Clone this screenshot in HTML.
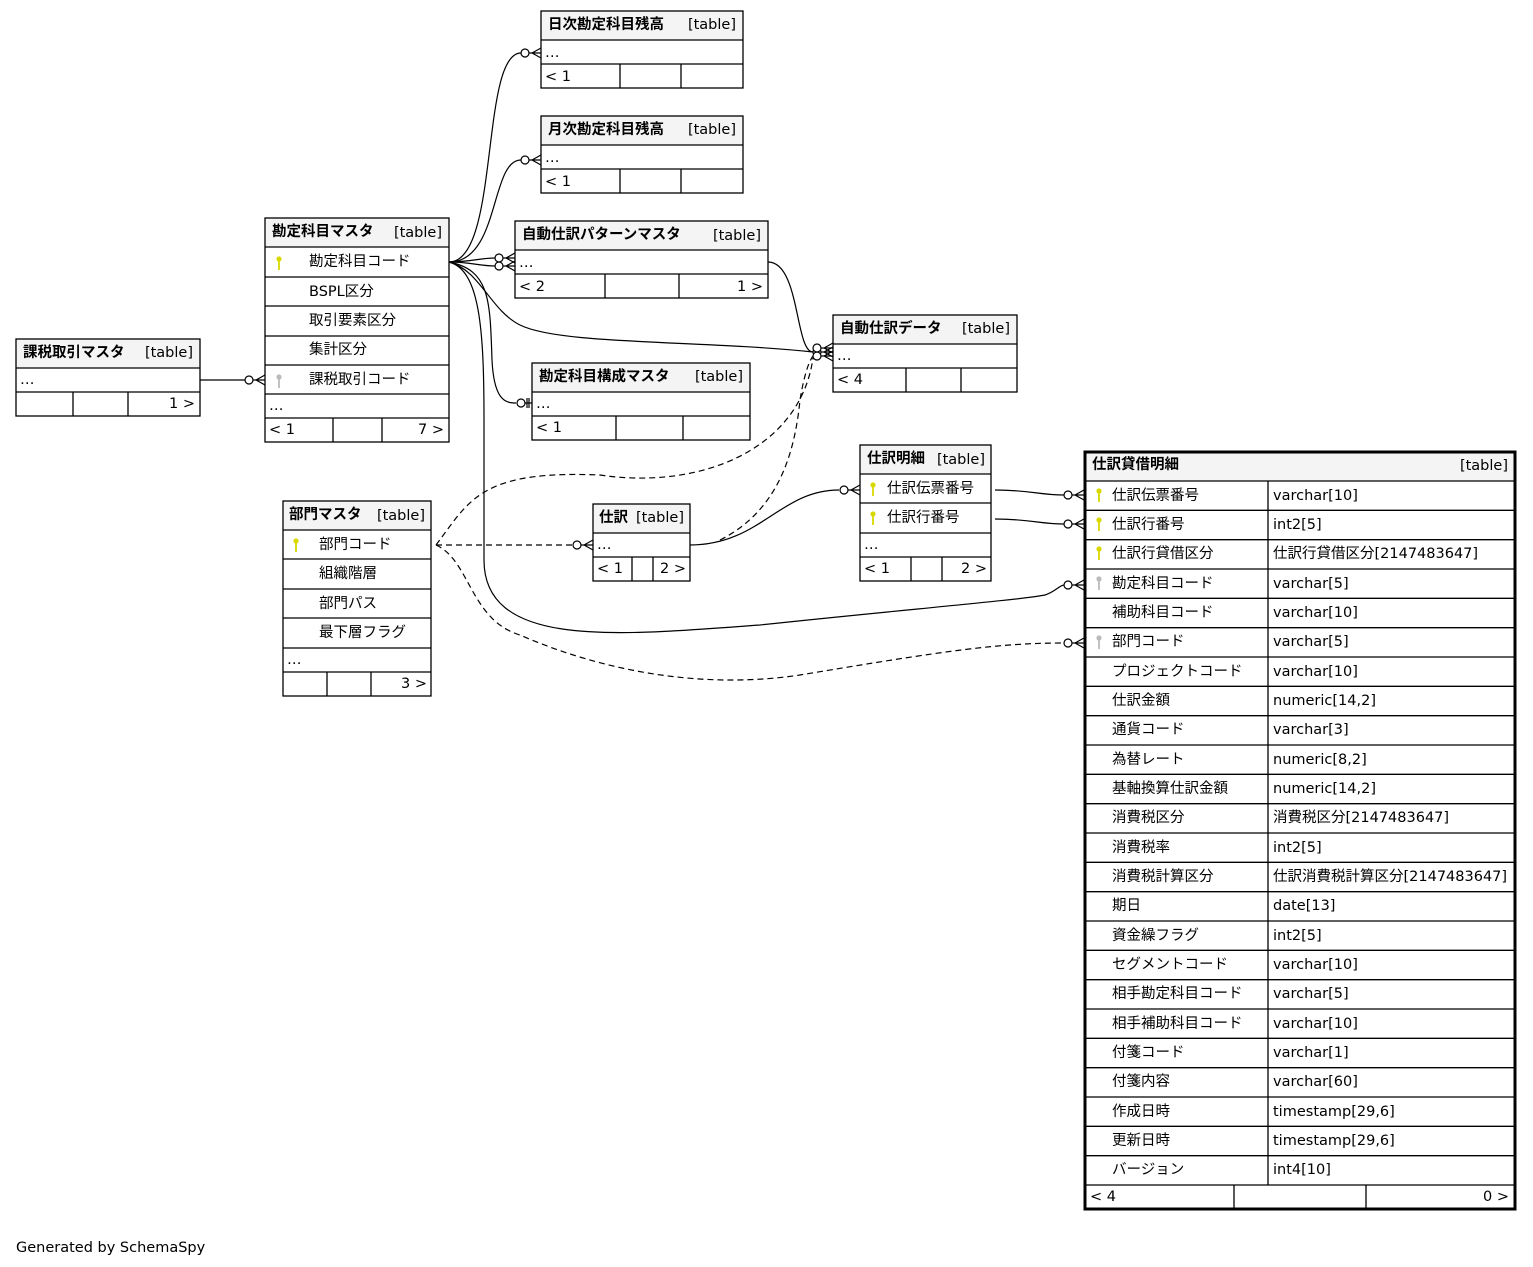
<!DOCTYPE html>
<html><head><meta charset="utf-8">
<style>
html,body{margin:0;padding:0;background:#fff;}
svg{display:block;}
text{font-family:"DejaVu Sans","Liberation Sans","Noto Sans CJK JP",sans-serif;font-size:14.5px;fill:#000;}
.b{font-weight:bold;}
.h{fill:#f4f4f4;}
.t{fill:none;stroke:#000;stroke-width:1.3;}
.l{fill:none;stroke:#000;stroke-width:1.2;}
.d{fill:none;stroke:#000;stroke-width:1.2;stroke-dasharray:6,4;}
.c{fill:#fff;stroke:#000;stroke-width:1.2;}
</style></head><body>
<svg width="1533" height="1267" viewBox="0 0 1533 1267" xmlns="http://www.w3.org/2000/svg">
<defs>
<g id="ky"><circle cx="0" cy="-3" r="2.6" fill="#d8d800"/><rect x="-0.9" y="-1" width="1.8" height="9" fill="#d8d800"/></g>
<g id="kg"><circle cx="0" cy="-3" r="2.6" fill="#bbb"/><rect x="-0.9" y="-1" width="1.8" height="9" fill="#bbb"/></g>
<g id="cf"><circle cx="-16" cy="0" r="4" class="c"/><path d="M-12,0 L0,0 M-9,0 L0,-5 M-9,0 L0,5" class="l"/></g>
</defs>

<!-- connectors -->
<path class="l" d="M449,262 C500,262 480,53 521,53"/>
<path class="l" d="M449,262 C500,262 490,160 521,160"/>
<path class="l" d="M449,262 C470,262 480,258 495,258"/>
<path class="l" d="M449,262 C470,262 480,266 495,266"/>
<path class="l" d="M449,262 C480,270 490,310 520,325 C560,345 700,340 813,352"/>
<path class="l" d="M449,262 C490,270 490,300 492,360 C494,400 505,403 516,403"/>
<path class="l" d="M449,262 C480,270 484,330 484,420 L484,560 C484,650 620,635 760,625 C900,610 1020,600 1045,595 C1055,592 1060,585 1064,585"/>
<path class="l" d="M200,380 L245,380"/>
<path class="l" d="M768,262 C800,262 795,352 813,352"/>
<path class="d" d="M436,545 L573,545"/>
<path class="d" d="M436,545 C470,500 480,470 600,475 C700,490 800,450 813,358"/>
<path class="d" d="M436,545 C470,560 470,620 520,635 C600,670 700,690 800,675 C950,650 1000,643 1064,643"/>
<path class="l" d="M690,545 C760,545 780,490 839,490"/>
<path class="d" d="M720,540 C780,510 795,450 800,400 C805,370 810,360 813,356"/>
<path class="l" d="M995,490 C1030,490 1040,495 1064,495"/>
<path class="l" d="M995,519 C1030,519 1040,524 1064,524"/>

<use href="#cf" x="541" y="53"/>
<use href="#cf" x="541" y="160"/>
<use href="#cf" x="515" y="258"/>
<use href="#cf" x="515" y="266"/>
<use href="#cf" x="833" y="352"/>
<use href="#cf" x="833" y="356"/>
<use href="#cf" x="833" y="348"/>
<use href="#cf" x="265" y="380"/>
<use href="#cf" x="593" y="545"/>
<use href="#cf" x="860" y="490"/>
<use href="#cf" x="1084" y="495"/>
<use href="#cf" x="1084" y="524"/>
<use href="#cf" x="1084" y="585"/>
<use href="#cf" x="1084" y="643"/>
<circle cx="521" cy="403" r="4" class="c"/><path class="l" d="M525,403 L532,403 M527,398 L527,408 M529,398 L529,408"/>

<!-- 日次勘定科目残高 -->
<rect x="541" y="11" width="202" height="29" class="h"/>
<rect x="541" y="11" width="202" height="77" class="t"/>
<path class="t" d="M541,40H743M541,64H743M620,64V88M681,64V88"/>
<text x="548" y="29" class="b">日次勘定科目残高</text><text x="736" y="29" text-anchor="end">[table]</text>
<text x="545" y="57">…</text><text x="545" y="81">&lt; 1</text>

<!-- 月次勘定科目残高 -->
<rect x="541" y="116" width="202" height="29" class="h"/>
<rect x="541" y="116" width="202" height="77" class="t"/>
<path class="t" d="M541,145H743M541,169H743M620,169V193M681,169V193"/>
<text x="548" y="134" class="b">月次勘定科目残高</text><text x="736" y="134" text-anchor="end">[table]</text>
<text x="545" y="162">…</text><text x="545" y="186">&lt; 1</text>

<!-- 自動仕訳パターンマスタ -->
<rect x="515" y="221" width="253" height="29" class="h"/>
<rect x="515" y="221" width="253" height="77" class="t"/>
<path class="t" d="M515,250H768M515,274H768M605,274V298M679,274V298"/>
<text x="522" y="239" class="b">自動仕訳パターンマスタ</text><text x="761" y="240" text-anchor="end">[table]</text>
<text x="519" y="267">…</text><text x="519" y="291">&lt; 2</text><text x="763" y="291" text-anchor="end">1 &gt;</text>

<!-- 勘定科目マスタ -->
<rect x="265" y="218" width="184" height="29" class="h"/>
<rect x="265" y="218" width="184" height="224" class="t"/>
<path class="t" d="M265,247H449M265,277H449M265,306H449M265,336H449M265,365H449M265,394H449M265,418H449M333,418V442M382,418V442"/>
<text x="272" y="236" class="b">勘定科目マスタ</text><text x="442" y="237" text-anchor="end">[table]</text>
<use href="#ky" x="279" y="262"/><text x="309" y="266">勘定科目コード</text>
<text x="309" y="296">BSPL区分</text>
<text x="309" y="325">取引要素区分</text>
<text x="309" y="354">集計区分</text>
<use href="#kg" x="279" y="380"/><text x="309" y="384">課税取引コード</text>
<text x="269" y="410">…</text><text x="269" y="434">&lt; 1</text><text x="444" y="434" text-anchor="end">7 &gt;</text>

<!-- 課税取引マスタ -->
<rect x="16" y="339" width="184" height="29" class="h"/>
<rect x="16" y="339" width="184" height="77" class="t"/>
<path class="t" d="M16,368H200M16,392H200M73,392V416M128,392V416"/>
<text x="23" y="357" class="b">課税取引マスタ</text><text x="193" y="357" text-anchor="end">[table]</text>
<text x="20" y="384">…</text><text x="195" y="408" text-anchor="end">1 &gt;</text>

<!-- 勘定科目構成マスタ -->
<rect x="532" y="363" width="218" height="29" class="h"/>
<rect x="532" y="363" width="218" height="77" class="t"/>
<path class="t" d="M532,392H750M532,416H750M616,416V440M683,416V440"/>
<text x="539" y="381" class="b">勘定科目構成マスタ</text><text x="743" y="381" text-anchor="end">[table]</text>
<text x="536" y="408">…</text><text x="536" y="432">&lt; 1</text>

<!-- 自動仕訳データ -->
<rect x="833" y="315" width="184" height="29" class="h"/>
<rect x="833" y="315" width="184" height="77" class="t"/>
<path class="t" d="M833,344H1017M833,368H1017M906,368V392M961,368V392"/>
<text x="840" y="333" class="b">自動仕訳データ</text><text x="1010" y="333" text-anchor="end">[table]</text>
<text x="837" y="360">…</text><text x="837" y="384">&lt; 4</text>

<!-- 部門マスタ -->
<rect x="283" y="501" width="148" height="29" class="h"/>
<rect x="283" y="501" width="148" height="195" class="t"/>
<path class="t" d="M283,530H431M283,559H431M283,589H431M283,618H431M283,648H431M283,672H431M327,672V696M371,672V696"/>
<text x="289" y="519" class="b">部門マスタ</text><text x="425" y="520" text-anchor="end">[table]</text>
<use href="#ky" x="296" y="544"/><text x="319" y="549">部門コード</text>
<text x="319" y="578">組織階層</text>
<text x="319" y="608">部門パス</text>
<text x="319" y="637">最下層フラグ</text>
<text x="287" y="664">…</text><text x="427" y="688" text-anchor="end">3 &gt;</text>

<!-- 仕訳 -->
<rect x="593" y="504" width="97" height="29" class="h"/>
<rect x="593" y="504" width="97" height="77" class="t"/>
<path class="t" d="M593,533H690M593,557H690M632,557V581M653,557V581"/>
<text x="599" y="522" class="b">仕訳</text><text x="684" y="522" text-anchor="end">[table]</text>
<text x="597" y="549">…</text><text x="597" y="573">&lt; 1</text><text x="686" y="573" text-anchor="end">2 &gt;</text>

<!-- 仕訳明細 -->
<rect x="860" y="445" width="131" height="29" class="h"/>
<rect x="860" y="445" width="131" height="136" class="t"/>
<path class="t" d="M860,474H991M860,503H991M860,533H991M860,557H991M911,557V581M942,557V581"/>
<text x="867" y="463" class="b">仕訳明細</text><text x="985" y="464" text-anchor="end">[table]</text>
<use href="#ky" x="873" y="488"/><text x="887" y="493">仕訳伝票番号</text>
<use href="#ky" x="873" y="517"/><text x="887" y="522">仕訳行番号</text>
<text x="864" y="549">…</text><text x="864" y="573">&lt; 1</text><text x="987" y="573" text-anchor="end">2 &gt;</text>

<!-- 仕訳貸借明細 -->
<rect x="1085" y="452" width="430" height="29" class="h"/>
<rect x="1085" y="452" width="430" height="757" fill="none" stroke="#000" stroke-width="3"/>
<path class="t" d="M1085,481H1515 M1085,510.3H1515 M1085,539.7H1515 M1085,569H1515 M1085,598.3H1515 M1085,627.7H1515 M1085,657H1515 M1085,686.3H1515 M1085,715.7H1515 M1085,745H1515 M1085,774.3H1515 M1085,803.7H1515 M1085,833H1515 M1085,862.3H1515 M1085,891.7H1515 M1085,921H1515 M1085,950.3H1515 M1085,979.7H1515 M1085,1009H1515 M1085,1038.3H1515 M1085,1067.7H1515 M1085,1097H1515 M1085,1126.3H1515 M1085,1155.7H1515 M1085,1185H1515 M1268,481V1185 M1234,1185V1209 M1366,1185V1209"/>
<text x="1092" y="469" class="b">仕訳貸借明細</text><text x="1508" y="470" text-anchor="end">[table]</text>
<g>
<use href="#ky" x="1099" y="494"/><text x="1112" y="500">仕訳伝票番号</text><text x="1273" y="500">varchar[10]</text>
<use href="#ky" x="1099" y="523"/><text x="1112" y="529">仕訳行番号</text><text x="1273" y="529">int2[5]</text>
<use href="#ky" x="1099" y="552"/><text x="1112" y="558">仕訳行貸借区分</text><text x="1273" y="558">仕訳行貸借区分[2147483647]</text>
<use href="#kg" x="1099" y="582"/><text x="1112" y="588">勘定科目コード</text><text x="1273" y="588">varchar[5]</text>
<text x="1112" y="617">補助科目コード</text><text x="1273" y="617">varchar[10]</text>
<use href="#kg" x="1099" y="641"/><text x="1112" y="646">部門コード</text><text x="1273" y="646">varchar[5]</text>
<text x="1112" y="676">プロジェクトコード</text><text x="1273" y="676">varchar[10]</text>
<text x="1112" y="705">仕訳金額</text><text x="1273" y="705">numeric[14,2]</text>
<text x="1112" y="734">通貨コード</text><text x="1273" y="734">varchar[3]</text>
<text x="1112" y="764">為替レート</text><text x="1273" y="764">numeric[8,2]</text>
<text x="1112" y="793">基軸換算仕訳金額</text><text x="1273" y="793">numeric[14,2]</text>
<text x="1112" y="822">消費税区分</text><text x="1273" y="822">消費税区分[2147483647]</text>
<text x="1112" y="852">消費税率</text><text x="1273" y="852">int2[5]</text>
<text x="1112" y="881">消費税計算区分</text><text x="1273" y="881">仕訳消費税計算区分[2147483647]</text>
<text x="1112" y="910">期日</text><text x="1273" y="910">date[13]</text>
<text x="1112" y="940">資金繰フラグ</text><text x="1273" y="940">int2[5]</text>
<text x="1112" y="969">セグメントコード</text><text x="1273" y="969">varchar[10]</text>
<text x="1112" y="998">相手勘定科目コード</text><text x="1273" y="998">varchar[5]</text>
<text x="1112" y="1028">相手補助科目コード</text><text x="1273" y="1028">varchar[10]</text>
<text x="1112" y="1057">付箋コード</text><text x="1273" y="1057">varchar[1]</text>
<text x="1112" y="1086">付箋内容</text><text x="1273" y="1086">varchar[60]</text>
<text x="1112" y="1116">作成日時</text><text x="1273" y="1116">timestamp[29,6]</text>
<text x="1112" y="1145">更新日時</text><text x="1273" y="1145">timestamp[29,6]</text>
<text x="1112" y="1174">バージョン</text><text x="1273" y="1174">int4[10]</text>
<text x="1090" y="1201">&lt; 4</text><text x="1509" y="1201" text-anchor="end">0 &gt;</text>
</g>

<text x="16" y="1252">Generated by SchemaSpy</text>
</svg>
</body></html>
